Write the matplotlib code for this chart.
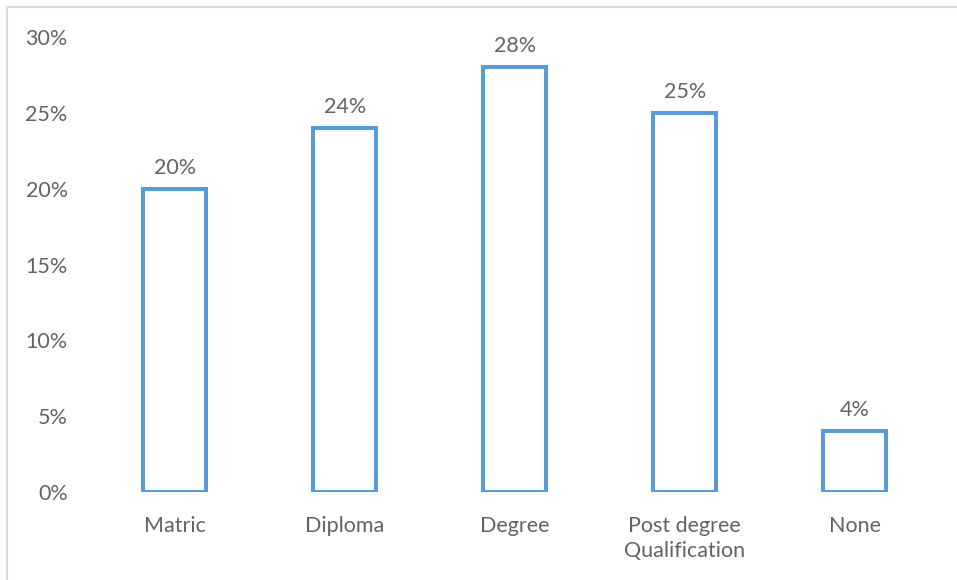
import matplotlib
matplotlib.use("Agg")
from matplotlib import pyplot
from matplotlib.lines import Line2D
import matplotlib.ticker as ticker

categories = ["Matric", "Diploma", "Degree", "Post degree\nQualification", "None"]
shares = [20, 24, 28, 25, 4]
y_ticks = [0, 5, 10, 15, 20, 25, 30]

pyplot.rcParams['font.family'] = ['Lato', 'DejaVu Sans']
text_color = '#636363'
bar_color = '#5B9BD5'
font_size = 15.5

fig = pyplot.figure(figsize=(9.57, 5.8), dpi=100)
ax = fig.add_axes([0.094, 0.1517, 0.888, 0.7845])

# Полые столбцы с синей рамкой
x = range(len(categories))
bars = ax.bar(x, shares, width=0.37, facecolor='white', edgecolor=bar_color, linewidth=2.9)

# Подписи значений над столбцами
for xi, val in zip(x, shares):
    ax.annotate(f'{val}%', (xi, val), xytext=(0, 8), textcoords='offset points',
                ha='center', va='bottom', fontsize=font_size, color=text_color)

ax.set_xlim(-0.5, len(categories) - 0.5)
ax.set_ylim(0, 30)
ax.set_yticks(y_ticks)
ax.yaxis.set_major_formatter(ticker.FuncFormatter(lambda v, p: f'{int(v)}%'))
ax.set_xticks(list(x))
ax.set_xticklabels(categories, linespacing=1.35)

ax.tick_params(axis='y', length=0, pad=16, labelsize=font_size, labelcolor=text_color)
ax.tick_params(axis='x', length=0, pad=17, labelsize=font_size, labelcolor=text_color)

for s in ax.spines.values():
    s.set_visible(False)

# Рамка вокруг области графика
fig.add_artist(Line2D([0.0078, 0.0078], [0, 0.988], color='#D9D9D9', linewidth=1.5, transform=fig.transFigure))
fig.add_artist(Line2D([0.0078, 1], [0.988, 0.988], color='#D9D9D9', linewidth=1.5, transform=fig.transFigure))

fig.savefig('out.png', dpi=100)
